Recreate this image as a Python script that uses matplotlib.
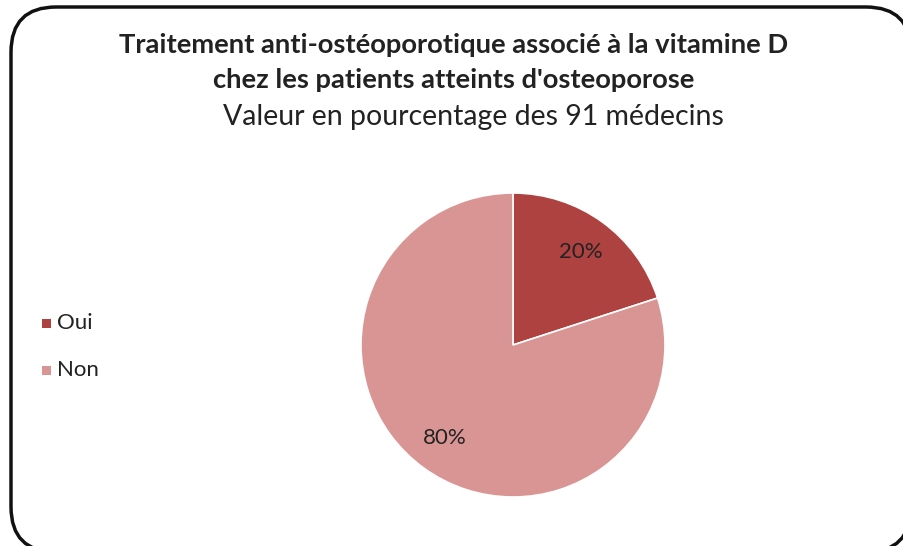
import numpy as np
import matplotlib.pyplot as plt
from matplotlib.patches import FancyBboxPatch, Rectangle

categories = ["Oui", "Non"]
values = [20, 80]
colors = ["#AD4240", "#D99594"]

title1 = "Traitement anti-ostéoporotique associé à la vitamine D"
title2 = "chez les patients atteints d'osteoporose"
subtitle = "Valeur en pourcentage des 91 médecins"

plt.rcParams['font.family'] = ['Lato', 'DejaVu Sans']

W, H = 904, 546
fig = plt.figure(figsize=(W / 100, H / 100), dpi=100)
fig.patch.set_facecolor("white")

# rounded border, clipped on the right and bottom like the reference
box = FancyBboxPatch((11 / W, 1 - 552 / H), 900 / W, 545 / H,
                     boxstyle="round,pad=0,rounding_size=0.05",
                     transform=fig.transFigure, facecolor="white",
                     edgecolor="#111111", linewidth=2.5,
                     mutation_aspect=W / H, zorder=-5)
fig.patches.append(box)

fig.text(454 / W, 1 - 53 / H, title1, ha="center", va="baseline",
         fontsize=19.7, fontweight="bold", color="#222222")
fig.text(454 / W, 1 - 88 / H, title2, ha="center", va="baseline",
         fontsize=19.7, fontweight="bold", color="#222222")
fig.text(473 / W, 1 - 125 / H, subtitle, ha="center", va="baseline",
         fontsize=20.5, color="#222222")

r = 152
cx, cy = 513, 345
ax = fig.add_axes([(cx - r) / W, 1 - (cy + r) / H, 2 * r / W, 2 * r / H])
ax.patch.set_visible(False)
wedges, texts = ax.pie(values, colors=colors, startangle=90, counterclock=False,
                       wedgeprops=dict(edgecolor="white", linewidth=1.2))
for w, v in zip(wedges, values):
    ang = np.deg2rad((w.theta1 + w.theta2) / 2)
    ax.text(0.76 * np.cos(ang), 0.76 * np.sin(ang), f"{v}%",
            ha="center", va="center", fontsize=16, color="#222222")
ax.set_xlim(-1, 1)
ax.set_ylim(-1, 1)
ax.set_aspect("equal")

# legend
for i, (lab, c) in enumerate(zip(categories, colors)):
    y = 323 + i * 47
    fig.add_artist(Rectangle((42 / W, 1 - (y + 4.5) / H), 9 / W, 9 / H,
                             transform=fig.transFigure, facecolor=c, edgecolor="none"))
    fig.text(57 / W, 1 - y / H, lab, ha="left", va="center", fontsize=16, color="#222222")

fig.savefig("out.png", dpi=100)
